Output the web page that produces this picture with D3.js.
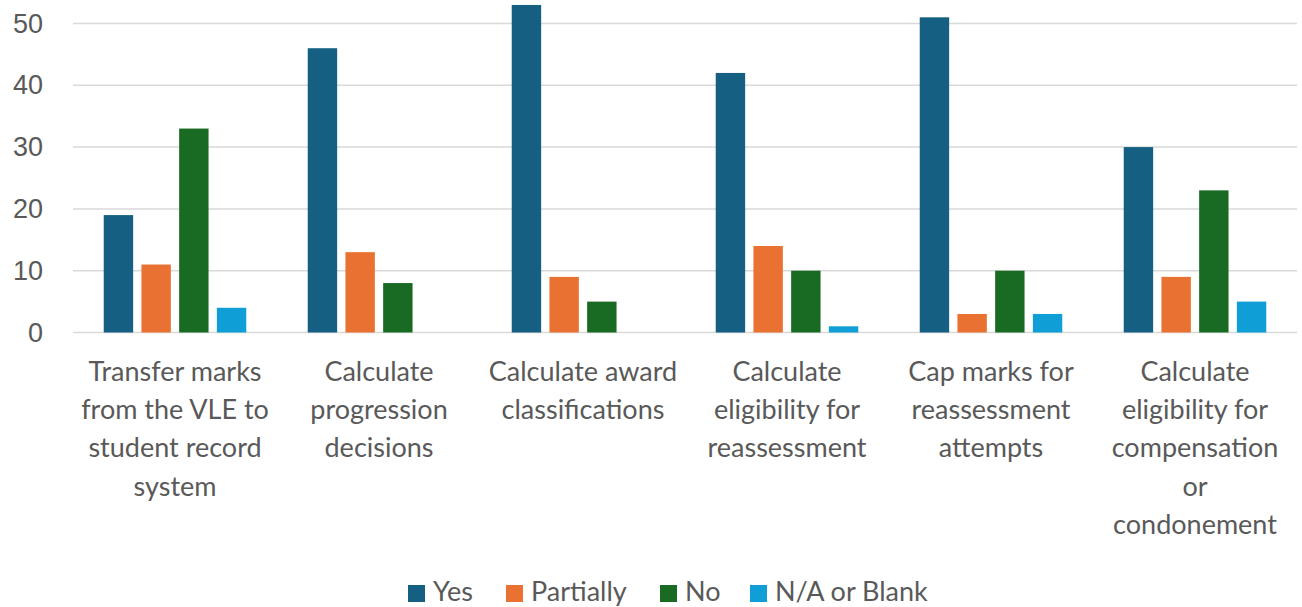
<!DOCTYPE html>
<html>
<head>
<meta charset="utf-8">
<script src="https://cdn.jsdelivr.net/npm/d3@7"></script>
<style>
  html, body { margin: 0; padding: 0; background: #fff; }
  svg { display: block; }
</style>
</head>
<body>
<svg id="chart" width="1302" height="607"></svg>
<script>
const categories = [
  ["Transfer marks", "from the VLE to", "student record", "system"],
  ["Calculate", "progression", "decisions"],
  ["Calculate award", "classifications"],
  ["Calculate", "eligibility for", "reassessment"],
  ["Cap marks for", "reassessment", "attempts"],
  ["Calculate", "eligibility for", "compensation", "or", "condonement"]
];
const seriesNames = ["Yes", "Partially", "No", "N/A or Blank"];
const yesValues = [19, 46, 53, 42, 51, 30];
const partiallyValues = [11, 13, 9, 14, 3, 9];
const noValues = [33, 8, 5, 10, 10, 23];
const naValues = [4, 0, 0, 1, 3, 5];
const yTicks = [0, 10, 20, 30, 40, 50];
const colors = ["#156082", "#E97132", "#196B24", "#0F9ED5"];

const seriesValues = [yesValues, partiallyValues, noValues, naValues];
const svg = d3.select("#chart");
const mLeft = 73, mRight = 1297, mTop = 23.5, mBottom = 332.5;

const x0 = d3.scaleBand().domain(d3.range(categories.length)).range([mLeft, mRight]).padding(0);
const x1 = d3.scaleBand().domain(d3.range(seriesNames.length)).range([0, x0.bandwidth()])
  .paddingInner(0.22).paddingOuter(0.815);
const y = d3.scaleLinear().domain([0, 50]).range([mBottom, mTop]);

// gridlines
svg.append("g").selectAll("line").data(yTicks).join("line")
  .attr("x1", mLeft).attr("x2", mRight)
  .attr("y1", d => y(d)).attr("y2", d => y(d))
  .attr("stroke", "#d9d9d9").attr("stroke-width", 1.5);

// y tick labels
const yAxis = d3.axisLeft(y).tickValues(yTicks).tickSize(0).tickPadding(0);
const ya = svg.append("g").attr("transform", `translate(43,0)`).call(yAxis);
ya.select(".domain").remove();
ya.selectAll("text").attr("font-family", "Liberation Sans, Arial, sans-serif")
  .attr("font-size", 27).attr("fill", "#595959");

// bars
const groups = svg.append("g").selectAll("g").data(categories).join("g")
  .attr("transform", (d, i) => `translate(${x0(i)},0)`);
groups.selectAll("rect").data((d, i) => seriesValues.map((s, k) => ({k, v: s[i]})).filter(o => o.v > 0))
  .join("rect")
  .attr("x", d => x1(d.k)).attr("width", x1.bandwidth())
  .attr("y", d => y(d.v)).attr("height", d => y(0) - y(d.v))
  .attr("fill", d => colors[d.k]);

// category labels
const lab = svg.append("g").selectAll("text").data(categories).join("text")
  .attr("text-anchor", "middle")
  .attr("font-family", "Lato, 'Open Sans', sans-serif")
  .attr("font-size", 27).attr("fill", "#595959")
  .attr("transform", (d, i) => `translate(${x0(i) + x0.bandwidth() / 2},381)`);
lab.selectAll("tspan").data(d => d).join("tspan")
  .attr("x", 0).attr("y", (d, j) => j * 38.2).text(d => d);

// legend
const legendX = [408, 506, 660, 750];
const lg = svg.append("g").selectAll("g").data(seriesNames).join("g")
  .attr("transform", (d, i) => `translate(${legendX[i]},0)`);
lg.append("rect").attr("x", 0).attr("y", 585).attr("width", 17).attr("height", 17)
  .attr("fill", (d, i) => colors[i]);
lg.append("text").attr("x", 25).attr("y", 601)
  .attr("font-family", "Lato, 'Open Sans', sans-serif")
  .attr("font-size", 27).attr("fill", "#595959").text(d => d);
</script>
</body>
</html>
